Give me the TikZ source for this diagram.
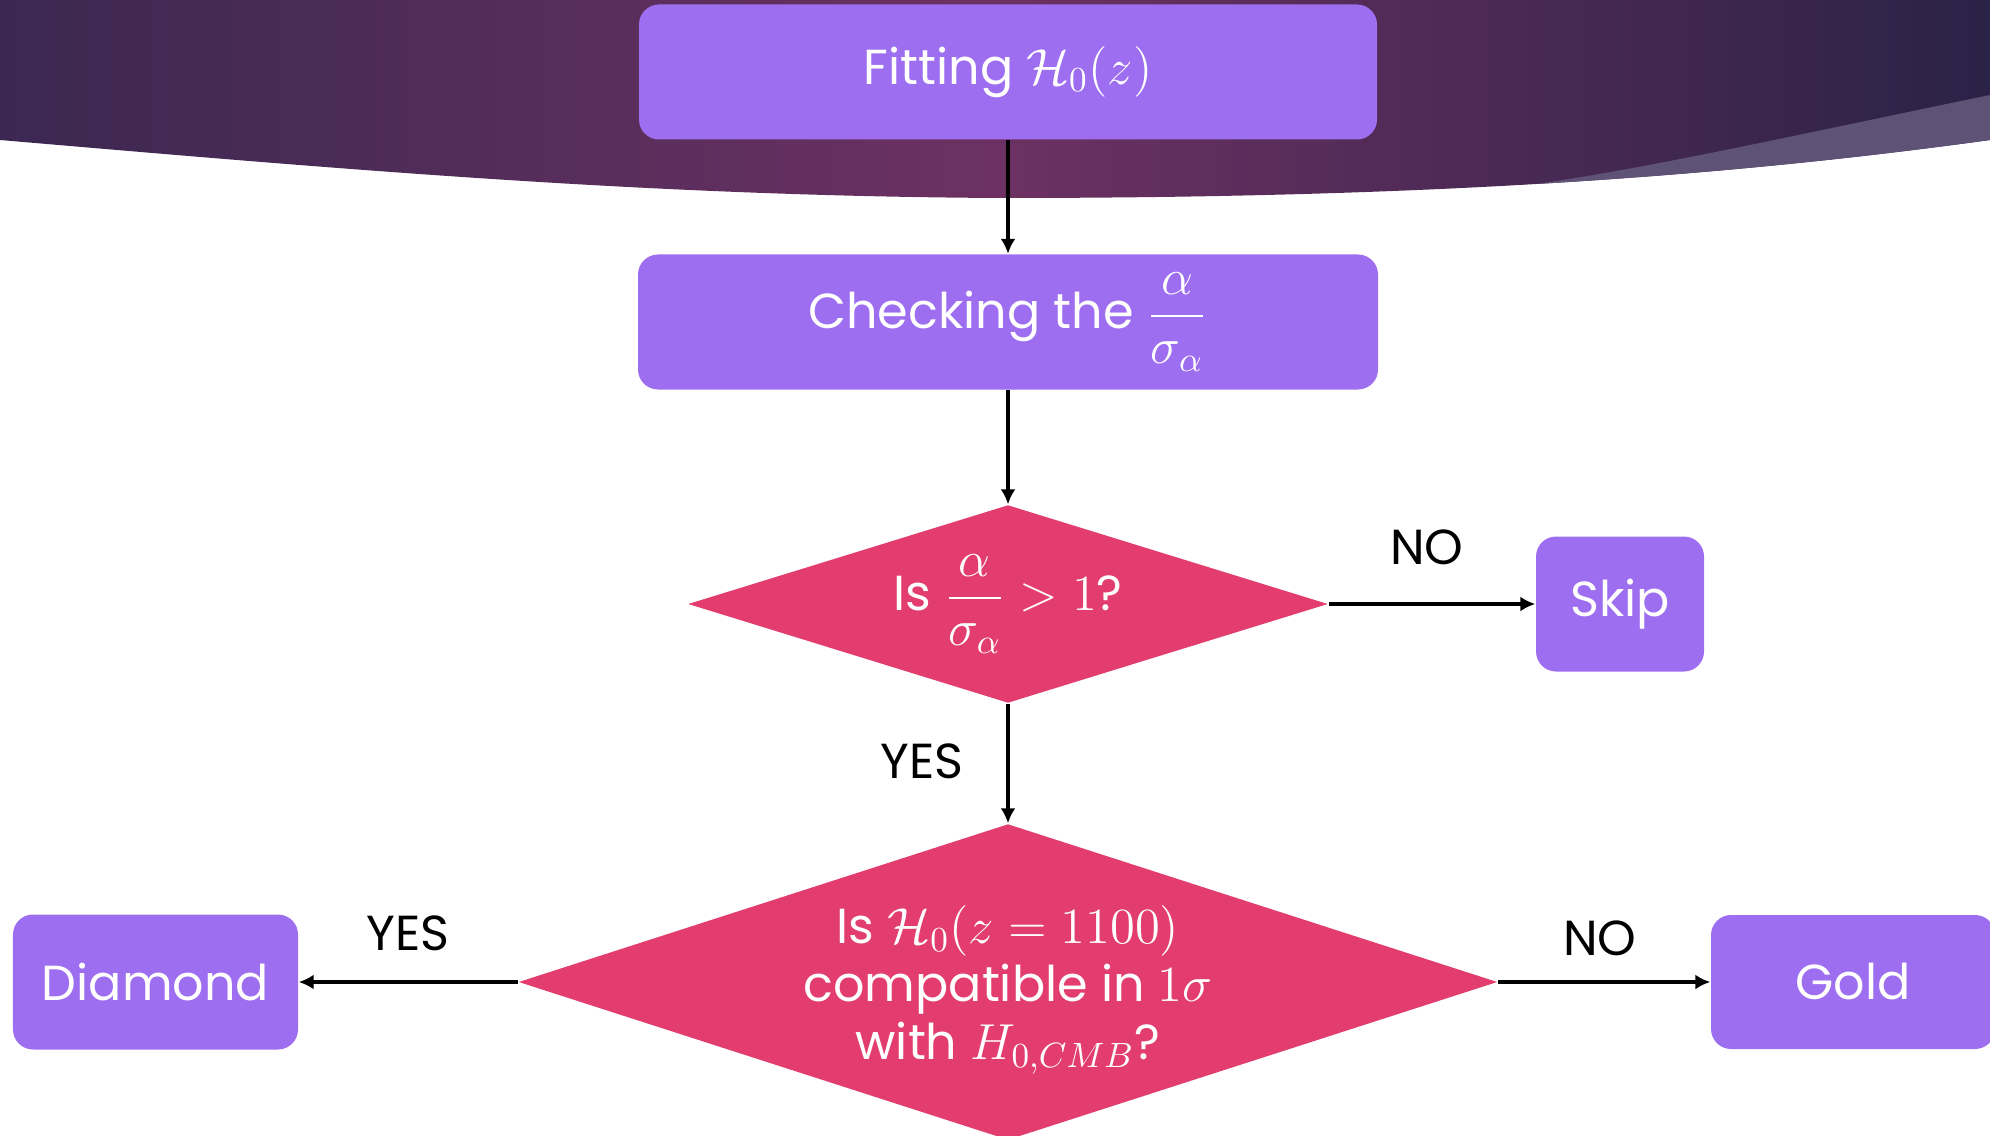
\documentclass[tikz,border=0pt]{standalone}
\usepackage{amsmath}
\usepackage{fontspec}
\setmainfont{Poppins}
\usetikzlibrary{shapes.geometric, arrows.meta}

\definecolor{boxpurple}{HTML}{9D6EF0}
\definecolor{decisionred}{HTML}{E23D6E}
\definecolor{bandleft}{HTML}{3B2852}
\definecolor{bandmid}{HTML}{6C3162}
\definecolor{bandright}{HTML}{2B2248}
\definecolor{bandwedge}{HTML}{5E5276}

\newcommand{\flowfont}{\fontsize{14}{16.5}\selectfont}

\tikzstyle{boxstyle} = [rectangle, rounded corners=0.2cm, fill=boxpurple, text=white, text centered, inner sep=0, font=\flowfont]
\tikzstyle{decisionstyle} = [diamond, fill=decisionred, inner sep=0]
\tikzstyle{textstyle} = [text=white, align=center, inner sep=0, font=\flowfont]
\tikzstyle{labelstyle} = [text=black, font=\flowfont]

\begin{document}
\begin{tikzpicture}
  \clip (0,0) rectangle (19.9,-11.35);

  % title band
  \shade[left color=bandleft, right color=bandright, middle color=bandmid]
    (0,0) -- (19.9,0) -- (19.9,-1.40)
    .. controls (17.0,-1.80) and (14.0,-1.98) .. (10.0,-1.98)
    .. controls (6.5,-1.96) and (3.5,-1.70) .. (0,-1.40) -- cycle;
  \fill[bandwedge] (15.36,-1.84) .. controls (16.5,-1.68) and (18.2,-1.30) .. (19.9,-0.95)
    -- (19.9,-1.40) .. controls (18.45,-1.60) and (16.975,-1.745) .. (15.36,-1.84) -- cycle;

  \node at (10.08,-0.72) [boxstyle, minimum width=7.38cm, minimum height=1.35cm] (fit) {Fitting $\mathcal{H}_0(z)$};
  \node at (10.08,-3.22) [boxstyle, minimum width=7.40cm, minimum height=1.35cm] (check) {Checking the $\dfrac{\alpha}{\sigma_\alpha}$};

  \node at (10.08,-6.04) [decisionstyle, minimum width=6.40cm, minimum height=1.98cm] (q1) {};
  \node at (q1) [textstyle] (q1txt) {Is $\dfrac{\alpha}{\sigma_\alpha} > 1$?};
  \node at (16.20,-6.04) [boxstyle, minimum width=1.68cm, minimum height=1.35cm] (skip) {Skip};

  \node at (10.08,-9.82) [decisionstyle, minimum width=9.79cm, minimum height=3.16cm] (q2) {};
  \node at ([yshift=-0.08cm]q2.center) [textstyle] (q2txt) {Is $\mathcal{H}_0(z = 1100)$\\ compatible in $1\sigma$\\ with $H_{0,CMB}$?};
  \node at (1.555,-9.82) [boxstyle, minimum width=2.85cm, minimum height=1.35cm] (diam) {Diamond};
  \node at (18.53,-9.82) [boxstyle, minimum width=2.84cm, minimum height=1.34cm] (gold) {Gold};

  \node at (14.27,-5.47) [labelstyle] (no1) {NO};
  \node at (9.22,-7.61) [labelstyle] (yes1) {YES};
  \node at (4.08,-9.33) [labelstyle] (yes2) {YES};
  \node at (16.00,-9.38) [labelstyle] (no2) {NO};

  \path[-{Latex[length=1.5mm, width=1.5mm]}, line width=0.9pt]
     (fit)   edge (check)
     (check) edge (q1)
     (q1)    edge (skip)
     (q1)    edge (q2)
     (q2)    edge (diam)
     (q2)    edge (gold);
\end{tikzpicture}
\end{document}
